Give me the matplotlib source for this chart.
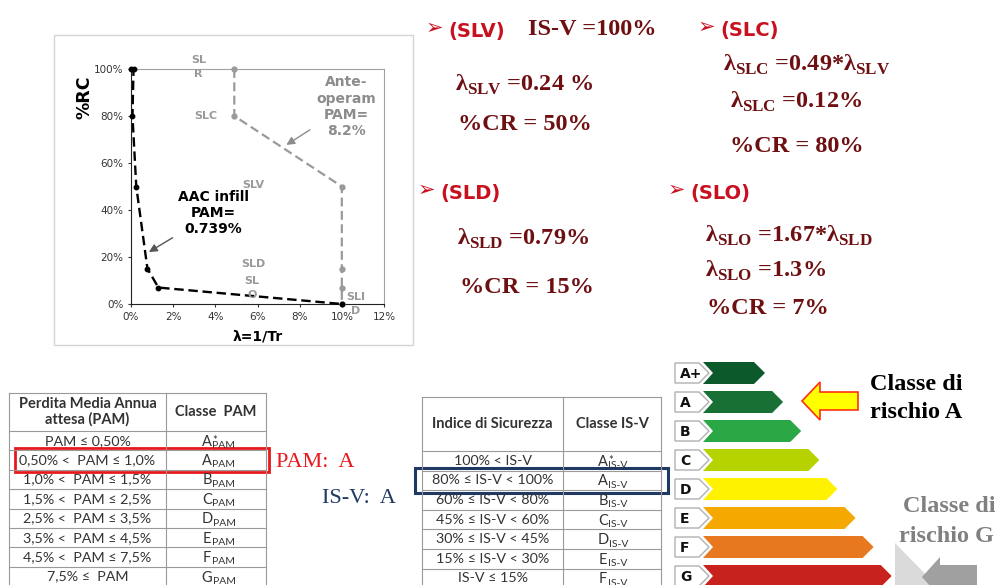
import matplotlib
matplotlib.use("Agg")
import matplotlib.pyplot as plt
from matplotlib.patches import Rectangle, Polygon
from matplotlib.ticker import FuncFormatter

# curve data (lambda in %, %RC)
AAC_LAMBDA = [0.0, 0.12, 0.07, 0.25, 0.78, 1.3, 10.0]
AAC_RC = [100, 100, 80, 50, 15, 7, 0]
ANTE_LAMBDA = [4.9, 4.9, 10.0, 10.0, 10.0, 10.0]
ANTE_RC = [100, 80, 50, 15, 7, 0]

# limit-state labels on the chart
LS_LABELS = ['SL\nR', 'SLC', 'SLV', 'SLD', 'SL\nO', 'SLI\nD']
LS_X = [3.2, 3.55, 5.8, 5.8, 5.75, 10.65]
LS_Y = [100.8, 80, 50.5, 17, 6.9, 0.0]

# tables
PAM_HEADER = ['Perdita Media Annua\nattesa (PAM)', 'Classe  PAM']
PAM_RANGES = ['PAM ≤ 0,50%', '0,50% <  PAM ≤ 1,0%', '1,0% <  PAM ≤ 1,5%',
              '1,5% <  PAM ≤ 2,5%', '2,5% <  PAM ≤ 3,5%', '3,5% <  PAM ≤ 4,5%',
              '4,5% <  PAM ≤ 7,5%', '7,5% ≤  PAM']
ISV_HEADER = ['Indice di Sicurezza', 'Classe IS-V']
ISV_RANGES = ['100% < IS-V', '80% ≤ IS-V < 100%', '60% ≤ IS-V < 80%',
              '45% ≤ IS-V < 60%', '30% ≤ IS-V < 45%', '15% ≤ IS-V < 30%',
              'IS-V ≤ 15%']
CLASSES = ['A+', 'A', 'B', 'C', 'D', 'E', 'F', 'G']
CLASS_COLORS = ['#0c5a2b', '#187034', '#2ba845', '#b6d300', '#fff200',
                '#f4a800', '#e8781f', '#c8221e']

MAROON = '#6e0f12'
RED = '#c8101e'
NAVY = '#1f3864'
TXT = '#333333'

plt.rcParams['mathtext.fontset'] = 'custom'
plt.rcParams['mathtext.rm'] = 'Liberation Serif:bold'
plt.rcParams['mathtext.bf'] = 'Liberation Serif:bold'

fig = plt.figure(figsize=(10.01, 5.85), dpi=100)
bg = fig.add_axes([0, 0, 1, 1])
bg.set_xlim(0, 1001)
bg.set_ylim(585, 0)
bg.axis('off')

# ---------------- chart ----------------
bg.add_patch(Rectangle((54, 35), 359, 310, fill=False, ec='#d4d4d4', lw=1))
ax = fig.add_axes([131 / 1001, 1 - 304 / 585, 253 / 1001, 235 / 585])
ax.plot(ANTE_LAMBDA, ANTE_RC, '--o', color='#9a9a9a', lw=1.6, ms=3.5,
        dashes=(4, 2), clip_on=False, zorder=3)
ax.plot(AAC_LAMBDA, AAC_RC, '--o', color='black', lw=1.7, ms=3.2,
        dashes=(4, 2), clip_on=False, zorder=4)
ax.set_xlim(0, 12)
ax.set_ylim(0, 100)
ax.set_xticks(range(0, 13, 2))
ax.set_yticks(range(0, 101, 20))
ax.xaxis.set_major_formatter(FuncFormatter(lambda v, p: f'{v:.0f}%'))
ax.yaxis.set_major_formatter(FuncFormatter(lambda v, p: f'{v:.0f}%'))
ax.tick_params(labelsize=7.5, length=2.5, colors=TXT, pad=3)
for s in ['left', 'bottom']:
    ax.spines[s].set_color('#222222')
for s in ['top', 'right']:
    ax.spines[s].set_color('#a0a0a0')
for lab, x, y in zip(LS_LABELS, LS_X, LS_Y):
    ax.text(x, y, lab, ha='center', va='center', fontsize=8, color='#9a9a9a',
            fontweight='bold', linespacing=1.45, zorder=5)
ax.annotate('Ante-\noperam\nPAM=\n8.2%', xy=(7.37, 67.7), xytext=(10.2, 84),
            ha='center', va='center', fontsize=10, fontweight='bold',
            color='#8c8c8c', linespacing=1.2,
            arrowprops=dict(arrowstyle='-|>', color='#8c8c8c', lw=1,
                            shrinkA=3, shrinkB=0, mutation_scale=12))
ax.annotate('AAC infill\nPAM=\n0.739%', xy=(0.85, 22.1), xytext=(3.9, 38.7),
            ha='center', va='center', fontsize=10, fontweight='bold',
            color='black', linespacing=1.2,
            arrowprops=dict(arrowstyle='-|>', color='#555555', lw=1,
                            shrinkA=2, shrinkB=0, mutation_scale=12))
bg.text(84, 97, '%RC', rotation=90, ha='center', va='center', fontsize=12.5,
        fontweight='bold')
bg.text(258, 336, 'λ=1/Tr', ha='center', va='center', fontsize=10,
        fontweight='bold')

# ---------------- formulas ----------------
def bullet(x, y, label):
    bg.text(x, y, '➢', color=RED, fontsize=15, ha='left', va='center',
            family='DejaVu Sans')
    bg.text(x + 22, y + 9, label, color=RED, fontsize=14, fontweight='bold',
            ha='left', va='baseline', family='DejaVu Sans')

def formula(x, y, s):
    bg.text(x, y, s, color=MAROON, fontsize=17.5, fontweight='bold',
            family='Liberation Serif', ha='left', va='baseline')

bullet(426, 28, '(SLV)')
formula(528, 35, 'IS-V =100%')
formula(455, 91, 'λ$_{\\mathrm{SLV}}$ =0.24 %')
formula(458, 130, '%CR = 50%')

bullet(698, 27, '(SLC)')
formula(723, 71, 'λ$_{\\mathrm{SLC}}$ =0.49*λ$_{\\mathrm{SLV}}$')
formula(730, 108, 'λ$_{\\mathrm{SLC}}$ =0.12%')
formula(730, 152, '%CR = 80%')

bullet(418, 190, '(SLD)')
formula(457, 245, 'λ$_{\\mathrm{SLD}}$ =0.79%')
formula(460, 293, '%CR = 15%')

bullet(668, 190, '(SLO)')
formula(705, 242, 'λ$_{\\mathrm{SLO}}$ =1.67*λ$_{\\mathrm{SLD}}$')
formula(705, 277, 'λ$_{\\mathrm{SLO}}$ =1.3%')
formula(707, 314, '%CR = 7%')

# ---------------- tables ----------------
def class_cell(cx, y, letter, sub):
    main = bg.text(cx - 9, y + 5, 'A' if letter == 'A+' else letter,
                   ha='center', va='baseline', fontsize=10.5, color=TXT,
                   family='Lato')
    bg.annotate(sub, xy=(1, 0), xycoords=main, xytext=(0.3, 0.5),
                textcoords='offset points', ha='left', va='baseline',
                fontsize=7.5, color=TXT, family='Lato')
    if letter == 'A+':
        bg.annotate('*', xy=(1, 1), xycoords=main, xytext=(0.3, -0.5),
                    textcoords='offset points', ha='left', va='top',
                    fontsize=8, color=TXT, family='Lato')

def draw_table(x0, xm, x1, top, head_bot, rowh, header, ranges, letters, sub):
    lc = '#9a9a9a'
    n = len(ranges)
    bottom = head_bot + n * rowh
    for x in (x0, xm, x1):
        bg.plot([x, x], [top, bottom], color=lc, lw=0.8)
    bg.plot([x0, x1], [top, top], color=lc, lw=0.8)
    for i in range(n + 1):
        y = head_bot + i * rowh
        bg.plot([x0, x1], [y, y], color=lc, lw=0.8)
    hy = (top + head_bot) / 2
    bg.text((x0 + xm) / 2, hy, header[0], ha='center', va='center',
            fontsize=10.5, fontweight='bold', color=TXT, family='Lato',
            linespacing=1.1)
    bg.text((xm + x1) / 2, hy, header[1], ha='center', va='center',
            fontsize=10.5, fontweight='bold', color=TXT, family='Lato')
    for i, (r, c) in enumerate(zip(ranges, letters)):
        y = head_bot + (i + 0.5) * rowh
        bg.text((x0 + xm) / 2, y, r, ha='center', va='center', fontsize=10.3,
                color=TXT, family='Lato')
        class_cell((xm + x1) / 2, y, c, sub)

draw_table(9, 166, 266, 393, 431, 19.4, PAM_HEADER, PAM_RANGES, CLASSES, 'PAM')
draw_table(422, 563, 661, 397, 451, 19.6, ISV_HEADER, ISV_RANGES,
           CLASSES[:len(ISV_RANGES)], 'IS-V')

bg.add_patch(Rectangle((15, 448), 254, 24, fill=False, ec='#e8191c', lw=2))
bg.text(276, 467, 'PAM:  A', color='#e8191c', fontsize=16,
        family='Liberation Serif', ha='left', va='baseline')
bg.add_patch(Rectangle((415, 468), 253, 25, fill=False, ec=NAVY, lw=2.2))
bg.text(322, 503, 'IS-V:  A', color=NAVY, fontsize=16,
        family='Liberation Serif', ha='left', va='baseline')

# ---------------- risk class label ----------------
for i, (c, col) in enumerate(zip(CLASSES, CLASS_COLORS)):
    yc = 373 + i * 29
    top, bot = yc - 11, yc + 11
    tip = 765 + i * 18.1
    bg.add_patch(Polygon([(703, top), (tip - 11, top), (tip, yc),
                          (tip - 11, bot), (703, bot), (713, yc)],
                         closed=True, fc=col, ec='none'))
    bg.add_patch(Polygon([(675, top + 1), (699, top + 1), (709, yc),
                          (699, bot - 1), (675, bot - 1)],
                         closed=True, fc='white', ec='#b0b0b0', lw=1))
    bg.text(680, yc + 1, c, ha='left', va='center', fontsize=10,
            fontweight='bold', color='#111111', family='DejaVu Sans')

# yellow arrow -> class A
bg.add_patch(Polygon([(802, 401), (820, 382), (820, 392), (858, 392),
                      (858, 410), (820, 410), (820, 420)], closed=True,
                     fc='#ffff00', ec='#ff3010', lw=1.2))
bg.text(870, 390, 'Classe di', fontsize=17.5, fontweight='bold',
        family='Liberation Serif', color='black', ha='left', va='baseline')
bg.text(870, 418, 'rischio A', fontsize=17.5, fontweight='bold',
        family='Liberation Serif', color='black', ha='left', va='baseline')

# grey arrow -> class G
bg.add_patch(Polygon([(895, 543), (936, 585), (895, 585)], closed=True,
                     fc='#dadada', ec='none'))
bg.add_patch(Polygon([(922, 577), (940, 557), (940, 565), (977, 565),
                      (977, 590), (940, 590), (940, 597)], closed=True,
                     fc='#a0a0a0', ec='none', clip_on=True))
bg.text(903, 512, 'Classe di', fontsize=17.5, fontweight='bold',
        family='Liberation Serif', color='#808080', ha='left', va='baseline')
bg.text(899, 542, 'rischio G', fontsize=17.5, fontweight='bold',
        family='Liberation Serif', color='#808080', ha='left', va='baseline')

fig.savefig('out.png', dpi=100)
